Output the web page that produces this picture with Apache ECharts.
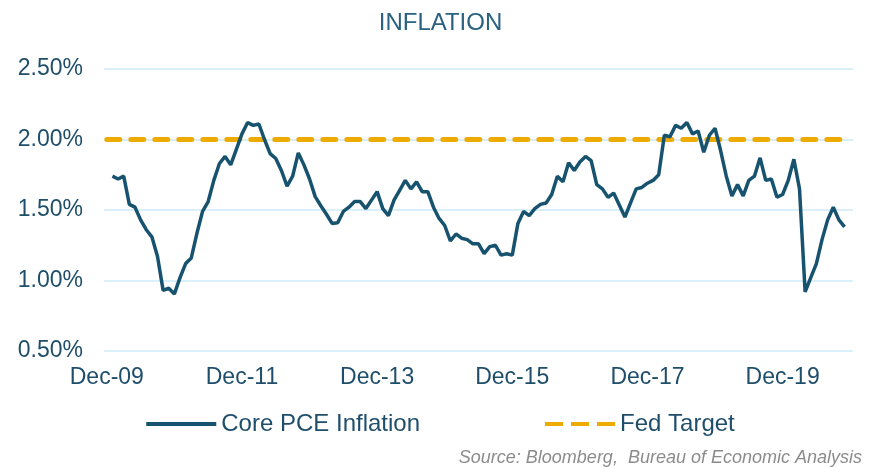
<!DOCTYPE html>
<html>
<head>
<meta charset="utf-8">
<script src="https://cdn.jsdelivr.net/npm/echarts@6/dist/echarts.min.js"></script>
<style>
  html, body { margin: 0; padding: 0; background: #fff; }
  #chart { width: 881px; height: 467px; }
</style>
</head>
<body>
<div id="chart"></div>
<script>
// monthly categories Dec-09 .. Dec-20
const MONTHS = ['Jan', 'Feb', 'Mar', 'Apr', 'May', 'Jun', 'Jul', 'Aug', 'Sep', 'Oct', 'Nov', 'Dec'];
const months = ['Dec-09'];
for (let y = 10; y <= 20; y++) {
  for (let m = 0; m < 12; m++) months.push(MONTHS[m] + '-' + y);
}

// Core PCE inflation, % y/y, Jan-10 .. Nov-20
const corePce = [
  null,
  1.74, 1.72, 1.74, 1.54, 1.52, 1.43, 1.36, 1.31, 1.17, 0.93, 0.945, 0.905,
  1.02, 1.12, 1.16, 1.335, 1.49, 1.56, 1.71, 1.83, 1.88, 1.82, 1.93, 2.04,
  2.12, 2.10, 2.11, 2.00, 1.90, 1.865, 1.78, 1.67, 1.74, 1.905, 1.82, 1.72,
  1.595, 1.53, 1.47, 1.405, 1.41, 1.49, 1.52, 1.56, 1.56, 1.51, 1.57, 1.63,
  1.51, 1.46, 1.57, 1.64, 1.71, 1.65, 1.70, 1.63, 1.63, 1.52, 1.44, 1.39,
  1.28, 1.33, 1.30, 1.29, 1.26, 1.26, 1.19, 1.24, 1.25, 1.18, 1.19, 1.18,
  1.405, 1.49, 1.46, 1.51, 1.54, 1.55, 1.61, 1.74, 1.70, 1.835, 1.78, 1.84,
  1.88, 1.85, 1.68, 1.65, 1.59, 1.62, 1.535, 1.45, 1.55, 1.65, 1.66, 1.69,
  1.71, 1.75, 2.03, 2.02, 2.10, 2.08, 2.12, 2.04, 2.06, 1.91, 2.03, 2.08,
  1.92, 1.74, 1.60, 1.68, 1.60, 1.71, 1.74, 1.87, 1.71, 1.72, 1.59, 1.61,
  1.71, 1.86, 1.65, 0.92, 1.02, 1.12, 1.29, 1.43, 1.52, 1.43, 1.38
];

const fedTarget = months.map(() => 2.0);

const yTicks = [0.5, 1.0, 1.5, 2.0, 2.5];

const FONT = "'Liberation Sans', Arial, sans-serif";
const TEXT = '#1f4e6b';
const LINE_COLOR = '#17536e';
const TARGET_COLOR = '#edab00';

// legend icons: a solid bar and three dashes
const solidIcon = 'path://M0,0h70v4h-70z';
const dashIcon = 'path://M0,0h18v4h-18z M26,0h18v4h-18z M52,0h18v4h-18z';

const chart = echarts.init(document.getElementById('chart'));

chart.setOption({
  backgroundColor: '#fff',
  animation: false,
  title: [
    {
      text: 'INFLATION',
      left: 'center',
      top: 6,
      textStyle: { color: '#2a6282', fontFamily: FONT, fontSize: 24, fontWeight: 'normal' }
    },
    {
      text: 'Source: Bloomberg,  Bureau of Economic Analysis',
      right: 14,
      top: 444,
      textStyle: { color: '#8c8c8c', fontFamily: FONT, fontSize: 18, fontStyle: 'italic', fontWeight: 'normal' }
    }
  ],
  legend: {
    top: 407,
    left: 'center',
    itemGap: 125,
    itemWidth: 70,
    itemHeight: 4,
    textStyle: { color: TEXT, fontFamily: FONT, fontSize: 24 },
    data: [
      { name: 'Core PCE Inflation', icon: solidIcon, itemStyle: { color: LINE_COLOR } },
      { name: 'Fed Target', icon: dashIcon, itemStyle: { color: TARGET_COLOR } }
    ]
  },
  grid: { left: 104, right: 28, top: 69, bottom: 116 },
  xAxis: {
    type: 'category',
    data: months,
    boundaryGap: true,
    axisLine: { show: false },
    axisTick: { show: false },
    axisLabel: {
      interval: 23,
      margin: 15,
      color: TEXT,
      fontFamily: FONT,
      fontSize: 23
    }
  },
  yAxis: {
    type: 'value',
    min: yTicks[0],
    max: yTicks[yTicks.length - 1],
    interval: 0.5,
    axisLine: { show: false },
    axisTick: { show: false },
    splitLine: { lineStyle: { color: '#cfeaf8', width: 1.5 } },
    axisLabel: {
      margin: 21,
      color: TEXT,
      fontFamily: FONT,
      fontSize: 23,
      formatter: v => v.toFixed(2) + '%'
    }
  },
  series: [
    {
      name: 'Core PCE Inflation',
      type: 'line',
      data: corePce,
      symbol: 'none',
      lineStyle: { color: LINE_COLOR, width: 3.5 },
      itemStyle: { color: LINE_COLOR },
      z: 3
    },
    {
      name: 'Fed Target',
      type: 'line',
      data: fedTarget,
      symbol: 'none',
      lineStyle: { color: TARGET_COLOR, width: 5, type: [13, 11], cap: 'round' },
      itemStyle: { color: TARGET_COLOR },
      z: 2
    }
  ]
});
</script>
</body>
</html>
